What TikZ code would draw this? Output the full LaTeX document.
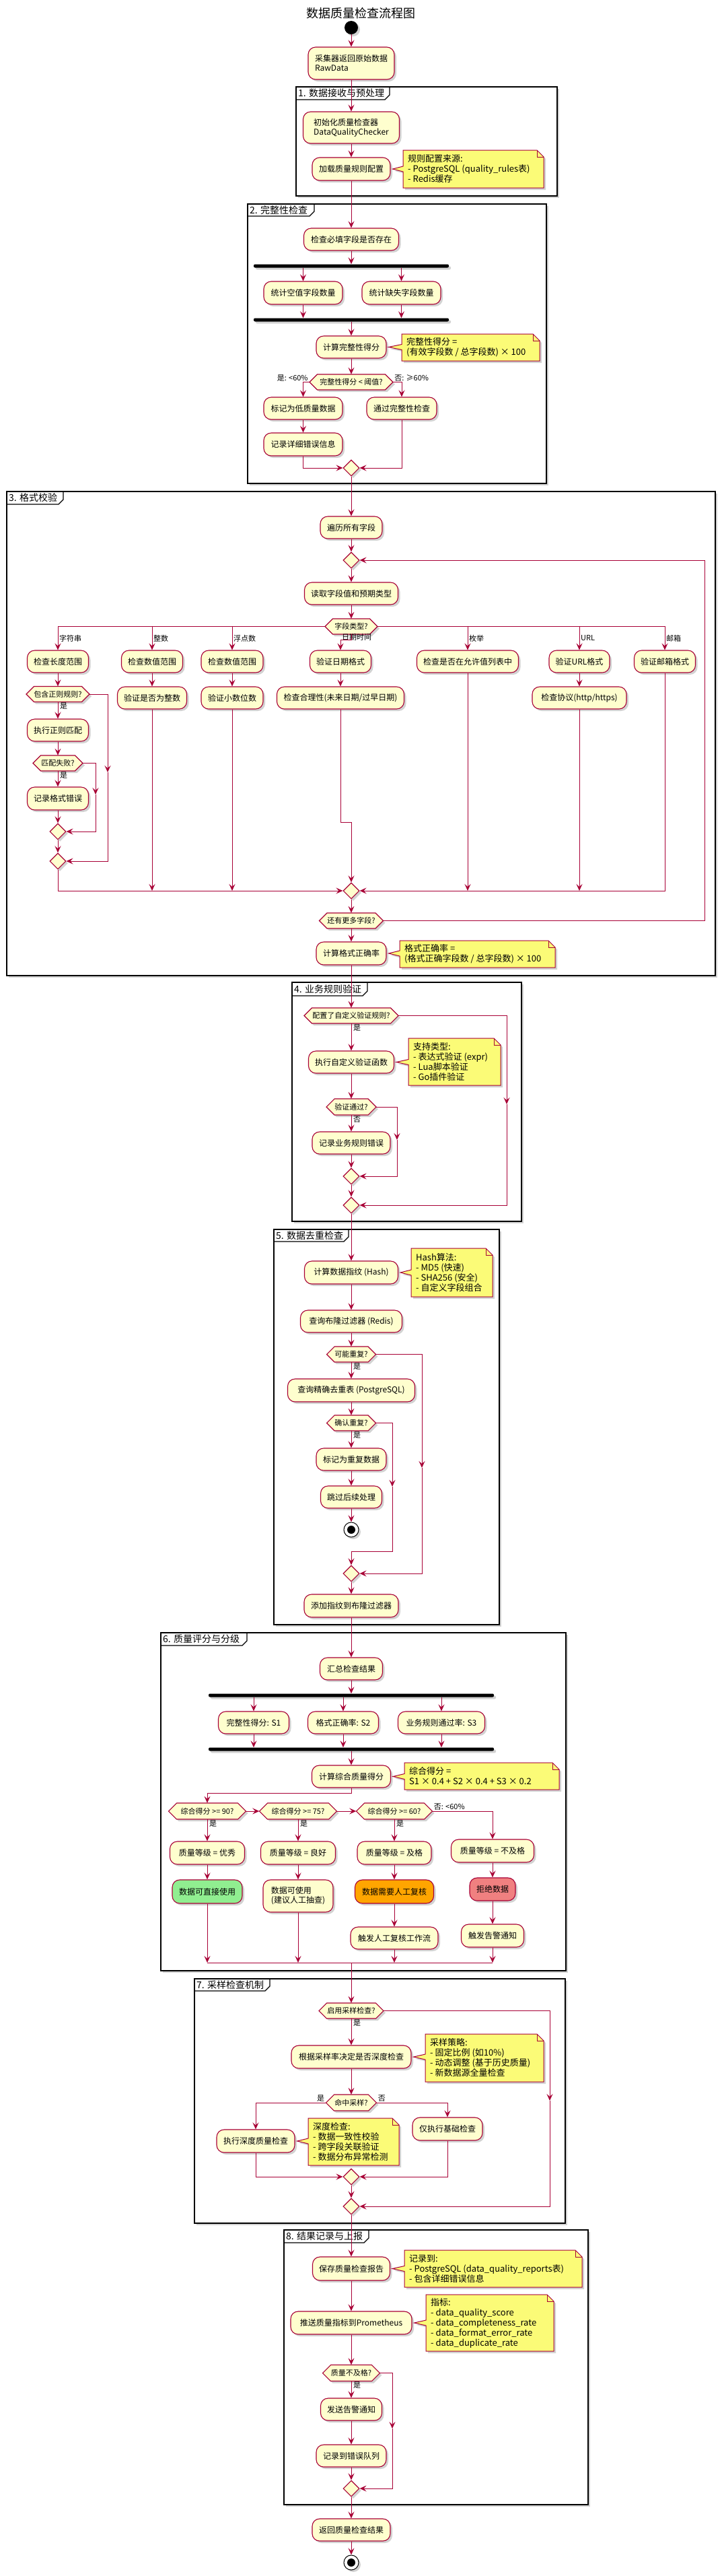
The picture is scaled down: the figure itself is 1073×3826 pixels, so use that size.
\documentclass[tikz,border=0pt]{standalone}
\usepackage{fontspec}
\setmainfont{Noto Sans CJK SC}
\usetikzlibrary{shapes.geometric,arrows.meta,shadows,calc}
\definecolor{pc}{HTML}{A80036}
\definecolor{actfill}{HTML}{FEFECE}
\definecolor{notefill}{HTML}{FBFB77}
\definecolor{okgreen}{HTML}{90EE90}
\definecolor{myorange}{HTML}{FFA500}
\definecolor{mycoral}{HTML}{F08080}
\tikzset{
  shadowed/.style={drop shadow={shadow xshift=3pt,shadow yshift=-3pt,fill=gray,opacity=0.35}},
  cline/.style={draw=pc,line width=1pt},
  arr/.style={cline,-{Stealth[length=10pt,width=9pt,inset=4pt]}},
  act/.style={draw=pc,fill=actfill,line width=1.1pt,rounded corners=11pt,font=\fontsize{12}{14}\selectfont,align=left,inner sep=2pt,text=black,shadowed},
  hexshape/.style={draw=pc,fill=actfill,line width=1.1pt,shadowed},
  hextext/.style={inner sep=0pt,font=\fontsize{11}{13}\selectfont,text=black},
  merge/.style={diamond,draw=pc,fill=actfill,line width=1.1pt,minimum width=24,minimum height=24,inner sep=0pt,shadowed},
  fbar/.style={fill=black,rounded corners=2pt,minimum height=5,inner sep=0pt,shadowed},
  secframe/.style={draw=black,line width=1.5pt,fill=white,shadowed},
  tabline/.style={draw=black,line width=1.2pt},
  framelab/.style={inner sep=0pt,font=\fontsize{14}{16}\selectfont,anchor=west},
  lab/.style={inner sep=0pt,font=\fontsize{11}{13}\selectfont},
  notebg/.style={draw=pc,fill=notefill,line width=1pt,shadowed},
  notefold/.style={draw=pc,line width=1pt},
  notetext/.style={inner sep=0pt,font=\fontsize{13}{15}\selectfont,align=left,anchor=west},
}
% hexagon decision: name, x, y, half width, half height, text
\newcommand\hexd[6]{%
  \path[hexshape] ({#2-#4},{#3}) -- ({#2-#4+#5},{#3-#5}) -- ({#2+#4-#5},{#3-#5}) -- ({#2+#4},{#3}) -- ({#2+#4-#5},{#3+#5}) -- ({#2-#4+#5},{#3+#5}) -- cycle;
  \node[hextext,minimum width={2*#4},minimum height={2*#5}] (#1) at (#2,#3) {#6};
}
% frame: name, x1, y1, x2, y2, tab right, tab bottom, label
\newcommand\secfrm[8]{%
  \path[secframe] (#2,#3) rectangle (#4,#5);
  \draw[tabline] (#2,#7) -- ({#6-7},#7) -- (#6,{#7-7}) -- (#6,#3);
  \node[framelab] (#1) at ({#2+3},{(#3+#7)/2}) {#8};
}
% note: name, x1, y1, x2, y2, target node, text
\newcommand\notebox[7]{%
  \coordinate (#1L) at (#2,0);
  \path[notebg] (#2,#3) -- ({#4-10},#3) -- (#4,{#3+10}) -- (#4,#5) -- (#2,#5)
     -- ($(#6.east -| #1L)+(0,4)$) -- ([xshift=3pt]#6.east) -- ($(#6.east -| #1L)+(0,-4)$) -- cycle;
  \draw[notefold] ({#4-10},#3) -- ({#4-10},{#3+10}) -- (#4,{#3+10});
  \node[notetext] (#1) at ({#2+7},{(#3+#5)/2}) {#7};
}
\begin{document}
\begin{tikzpicture}[x=1pt,y=-1pt]
\useasboundingbox (0,0) rectangle (1073,3826);
\fill[white] (0,0) rectangle (1073,3826);

% ---------- frames ----------
\secfrm{fl1}{440}{129}{828}{291}{579}{148}{1. 数据接收与预处理}
\secfrm{fl2}{368}{303}{812}{718}{467}{321}{2. 完整性检查}
\secfrm{fl3}{10}{730}{1063}{1449}{94}{749}{3. 格式校验}
\secfrm{fl4}{434}{1459}{775}{1814}{546}{1479}{4. 业务规则验证}
\secfrm{fl5}{407}{1826}{742}{2413}{518}{1844}{5. 数据去重检查}
\secfrm{fl6}{239}{2425}{841}{2927}{367}{2444}{6. 质量评分与分级}
\secfrm{fl7}{289}{2939}{840}{3302}{401}{2957}{7. 采样检查机制}
\secfrm{fl8}{422}{3312}{874}{3720}{548}{3331}{8. 结果记录与上报}

% ---------- title & start ----------
\node[inner sep=0pt,font=\fontsize{18}{20}\selectfont] (title) at (536,20) {数据质量检查流程图};
\node[circle,fill=black,minimum size=20,inner sep=0pt,shadowed] (start) at (522,41) {};

% ---------- section 1 ----------
\node[act,minimum width=128,minimum height=48] (n1) at (522,94) {采集器返回原始数据\\RawData};
\node[act,minimum width=143,minimum height=47] (n2) at (522,189.5) {初始化质量检查器\\DataQualityChecker};
\node[act,minimum width=116,minimum height=34] (n3) at (522,251) {加载质量规则配置};
\notebox{note1}{599}{223}{808}{279}{n3}{规则配置来源:\\- PostgreSQL (quality\_rules表)\\- Redis缓存}

% ---------- section 2 ----------
\node[act,minimum width=141,minimum height=33] (n4) at (522,355.5) {检查必填字段是否存在};
\node[fbar,minimum width=290] (fork1) at (522,395) {};
\node[act,minimum width=117,minimum height=34] (n5) at (450.5,435) {统计空值字段数量};
\node[act,minimum width=117,minimum height=34] (n6) at (596.5,435) {统计缺失字段数量};
\node[fbar,minimum width=290] (join1) at (522,475) {};
\node[act,minimum width=104,minimum height=33] (n7) at (522,515.5) {计算完整性得分};
\notebox{note2}{597}{496}{802}{536}{n7}{完整性得分 =\\(有效字段数 / 总字段数) × 100}
\hexd{d1}{522}{567.5}{62}{11.5}{完整性得分 < 阈值?}
\node[act,minimum width=117,minimum height=33] (n8) at (450.5,606.5) {标记为低质量数据};
\node[act,minimum width=104,minimum height=33] (n9) at (597,606.5) {通过完整性检查};
\node[act,minimum width=117,minimum height=34] (n10) at (450.5,660) {记录详细错误信息};
\node[merge] (m1) at (522,695) {};
\node[lab,anchor=south east] (ld1a) at ([xshift=-2pt,yshift=1pt]d1.west) {是: <60\%};
\node[lab,anchor=south west] (ld1b) at ([xshift=2pt,yshift=1pt]d1.east) {否: ≥60\%};

% ---------- section 3 ----------
\node[act,minimum width=92,minimum height=33] (n11) at (522,783.5) {遍历所有字段};
\node[merge] (m2) at (522,832) {};
\node[act,minimum width=139,minimum height=33] (n12) at (522,881.5) {读取字段值和预期类型};
\hexd{d2}{522}{930.5}{39}{11.5}{字段类型?}
\node[act,minimum width=91,minimum height=33] (b1) at (86,982.5) {检查长度范围};
\node[act,minimum width=91,minimum height=33] (b2) at (226,982.5) {检查数值范围};
\node[act,minimum width=92,minimum height=33] (b3) at (345,982.5) {检查数值范围};
\node[act,minimum width=91,minimum height=33] (b4) at (506,982.5) {验证日期格式};
\node[act,minimum width=151,minimum height=33] (b5) at (695,982.5) {检查是否在允许值列表中};
\node[act,minimum width=90,minimum height=33] (b6) at (861,982.5) {验证URL格式};
\node[act,minimum width=91,minimum height=33] (b7) at (988,982.5) {验证邮箱格式};
\node[lab,anchor=west] (lb1) at (88,948) {字符串};
\node[lab,anchor=west] (lb2) at (228,948) {整数};
\node[lab,anchor=west] (lb3) at (347,948) {浮点数};
\node[lab,anchor=west] (lb4) at (508,946) {日期时间};
\node[lab,anchor=west] (lb5) at (697,948) {枚举};
\node[lab,anchor=west] (lb6) at (863,948) {URL};
\node[lab,anchor=west] (lb7) at (990,948) {邮箱};
\hexd{d3}{86}{1031}{47}{11.5}{包含正则规则?}
\node[act,minimum width=103,minimum height=33] (b8) at (226,1036.5) {验证是否为整数};
\node[act,minimum width=92,minimum height=33] (b9) at (345,1036.5) {验证小数位数};
\node[act,minimum width=189,minimum height=33] (b10) at (506,1036.5) {检查合理性(未来日期/过早日期)};
\node[act,minimum width=140,minimum height=33] (b11) at (861,1036.5) {检查协议(http/https)};
\node[lab,anchor=north west] (ld3) at ([xshift=3pt,yshift=-1pt]d3.south) {是};
\node[act,minimum width=91,minimum height=33] (b12) at (86,1084.5) {执行正则匹配};
\hexd{d4}{86}{1133.5}{37}{11.5}{匹配失败?}
\node[lab,anchor=north west] (ld4) at ([xshift=3pt,yshift=-1pt]d4.south) {是};
\node[act,minimum width=91,minimum height=34] (b13) at (86,1186) {记录格式错误};
\node[merge] (m3) at (86,1235) {};
\node[merge] (m4) at (86,1279) {};
\node[merge] (m5) at (522,1323) {};
\hexd{d5}{522}{1367.5}{47.5}{11.5}{还有更多字段?}
\node[act,minimum width=104,minimum height=34] (b14) at (522,1416) {计算格式正确率};
\notebox{note3}{594}{1397}{825}{1437}{b14}{格式正确率 =\\(格式正确字段数 / 总字段数) × 100}

% ---------- section 4 ----------
\hexd{d6}{522}{1508.5}{70}{11.5}{配置了自定义验证规则?}
\node[lab,anchor=north west] (ld6) at ([xshift=3pt,yshift=-1pt]d6.south) {是};
\node[act,minimum width=127,minimum height=33] (c1) at (522,1577.5) {执行自定义验证函数};
\notebox{note4}{607}{1542}{744}{1612}{c1}{支持类型:\\- 表达式验证 (expr)\\- Lua脚本验证\\- Go插件验证}
\hexd{d7}{522}{1644}{37}{12}{验证通过?}
\node[lab,anchor=north west] (ld7) at ([xshift=3pt,yshift=-1pt]d7.south) {否};
\node[act,minimum width=116,minimum height=33] (c2) at (522,1697.5) {记录业务规则错误};
\node[merge] (m6) at (522,1747) {};
\node[merge] (m7) at (522,1790) {};

% ---------- section 5 ----------
\node[act,minimum width=139,minimum height=34] (e1) at (522,1890) {计算数据指纹 (Hash)};
\notebox{note5}{611}{1854}{732}{1926}{e1}{Hash算法:\\- MD5 (快速)\\- SHA256 (安全)\\- 自定义字段组合}
\node[act,minimum width=151,minimum height=33] (e2) at (522,1962.5) {查询布隆过滤器 (Redis)};
\hexd{d8}{522}{2011.5}{36.5}{11.5}{可能重复?}
\node[lab,anchor=north west] (ld8) at ([xshift=3pt,yshift=-1pt]d8.south) {是};
\node[act,minimum width=189,minimum height=34] (e3) at (522,2065) {查询精确去重表 (PostgreSQL)};
\hexd{d9}{522}{2113.5}{36.5}{11.5}{确认重复?}
\node[lab,anchor=north west] (ld9) at ([xshift=3pt,yshift=-1pt]d9.south) {是};
\node[act,minimum width=104,minimum height=33] (e4) at (522,2167.5) {标记为重复数据};
\node[act,minimum width=91,minimum height=33] (e5) at (522,2223.5) {跳过后续处理};
\node[circle,draw=black,fill=white,line width=1pt,minimum size=22,inner sep=0pt,shadowed] (stop1) at (522,2272) {};
\node[circle,fill=black,minimum size=12,inner sep=0pt] (stop1in) at (stop1) {};
\node[merge] (m8) at (522,2337) {};
\node[act,minimum width=140,minimum height=34] (e6) at (522,2385) {添加指纹到布隆过滤器};

% ---------- section 6 ----------
\node[act,minimum width=93,minimum height=33] (f1) at (522,2478.5) {汇总检查结果};
\node[fbar,minimum width=424] (fork2) at (522,2518) {};
\node[act,minimum width=105,minimum height=33] (f2) at (377,2558.5) {完整性得分: S1};
\node[act,minimum width=105,minimum height=33] (f3) at (510,2558.5) {格式正确率: S2};
\node[act,minimum width=129,minimum height=33] (f4) at (656,2558.5) {业务规则通过率: S3};
\node[fbar,minimum width=424] (join2) at (522,2598) {};
\node[act,minimum width=117,minimum height=33] (f5) at (522,2638.5) {计算综合质量得分};
\notebox{note6}{601}{2618}{831}{2658}{f5}{综合得分 =\\S1 × 0.4 + S2 × 0.4 + S3 × 0.2}
\hexd{g1}{308}{2690}{57.5}{12}{综合得分 >= 90?}
\hexd{g2}{443}{2690}{57.5}{12}{综合得分 >= 75?}
\hexd{g3}{586}{2690}{56.5}{12}{综合得分 >= 60?}
\node[lab,anchor=north west] (lg1) at ([xshift=3pt,yshift=-1pt]g1.south) {是};
\node[lab,anchor=north west] (lg2) at ([xshift=3pt,yshift=-1pt]g2.south) {是};
\node[lab,anchor=north west] (lg3) at ([xshift=3pt,yshift=-1pt]g3.south) {是};
\node[lab,anchor=south west] (lg3b) at ([xshift=2pt,yshift=1pt]g3.east) {否: <60\%};
\node[act,minimum width=111,minimum height=34] (h1) at (308,2752) {质量等级 = 优秀};
\node[act,minimum width=111,minimum height=34] (h2) at (443,2752) {质量等级 = 良好};
\node[act,minimum width=110,minimum height=34] (h3) at (586,2752) {质量等级 = 及格};
\node[act,minimum width=123,minimum height=34] (h4) at (732,2749) {质量等级 = 不及格};
\node[act,fill=okgreen,minimum width=104,minimum height=35] (i1) at (308,2809.5) {数据可直接使用};
\node[act,minimum width=104,minimum height=48] (i2) at (443,2816) {数据可使用\\(建议人工抽查)};
\node[act,fill=myorange,minimum width=117,minimum height=35] (i3) at (586,2809.5) {数据需要人工复核};
\node[act,fill=mycoral,minimum width=68,minimum height=34] (i4) at (732,2806) {拒绝数据};
\node[act,minimum width=130,minimum height=33] (j3) at (586,2878.5) {触发人工复核工作流};
\node[act,minimum width=93,minimum height=34] (j4) at (732,2875) {触发告警通知};
\coordinate (mgC) at (522,2915);

% ---------- section 7 ----------
\hexd{k1}{522}{2986.5}{48}{11.5}{启用采样检查?}
\node[lab,anchor=north west] (lk1) at ([xshift=3pt,yshift=-1pt]k1.south) {是};
\node[act,minimum width=178,minimum height=34] (k2) at (522,3055) {根据采样率决定是否深度检查};
\notebox{note7}{632}{3021}{808}{3092}{k2}{采样策略:\\- 固定比例 (如10\%)\\- 动态调整 (基于历史质量)\\- 新数据源全量检查}
\hexd{k3}{522}{3123}{37.5}{12}{命中采样?}
\node[lab,anchor=south east] (lk3a) at ([xshift=-2pt,yshift=1pt]k3.west) {是};
\node[lab,anchor=south west] (lk3b) at ([xshift=2pt,yshift=1pt]k3.east) {否};
\node[act,minimum width=116,minimum height=34] (l1) at (380,3180) {执行深度质量检查};
\notebox{note8}{458}{3146}{593}{3216}{l1}{深度检查:\\- 数据一致性校验\\- 跨字段关联验证\\- 数据分布异常检测}
\node[act,minimum width=104,minimum height=34] (l2) at (665,3162) {仅执行基础检查};
\node[merge] (m9) at (522,3233) {};
\node[merge] (m10) at (522,3277) {};

% ---------- section 8 ----------
\node[act,minimum width=115,minimum height=35] (p1) at (522,3369.5) {保存质量检查报告};
\notebox{note9}{601}{3342}{865}{3397}{p1}{记录到:\\- PostgreSQL (data\_quality\_reports表)\\- 包含详细错误信息}
\node[act,minimum width=180,minimum height=34] (p2) at (522,3450) {推送质量指标到Prometheus};
\notebox{note10}{633}{3408}{823}{3492}{p2}{指标:\\- data\_quality\_score\\- data\_completeness\_rate\\- data\_format\_error\_rate\\- data\_duplicate\_rate}
\hexd{q1}{522}{3524.5}{42.5}{12}{质量不及格?}
\node[lab,anchor=north west] (lq1) at ([xshift=3pt,yshift=-1pt]q1.south) {是};
\node[act,minimum width=91,minimum height=33] (q2) at (522,3578.5) {发送告警通知};
\node[act,minimum width=104,minimum height=33] (q3) at (522,3647.5) {记录到错误队列};
\node[merge] (m11) at (522,3696) {};
\node[act,minimum width=116,minimum height=33] (r1) at (522,3757.5) {返回质量检查结果};
\node[circle,draw=black,fill=white,line width=1pt,minimum size=22,inner sep=0pt,shadowed] (stop2) at (522,3806) {};
\node[circle,fill=black,minimum size=12,inner sep=0pt] (stop2in) at (stop2) {};

% ================= connectors =================
\draw[arr] (start) -- (n1);
\draw[arr] (n1) -- (n2);
\draw[arr] (n2) -- (n3);
\draw[arr] (n3) -- (n4);
\draw[arr] (n4) -- (fork1);
\draw[arr] (fork1.south -| n5.north) -- (n5.north);
\draw[arr] (fork1.south -| n6.north) -- (n6.north);
\draw[arr] (n5.south) -- (n5.south |- join1.north);
\draw[arr] (n6.south) -- (n6.south |- join1.north);
\draw[arr] (join1) -- (n7);
\draw[arr] (n7) -- (d1);
\draw[arr] (d1.west) -| (n8.north);
\draw[arr] (d1.east) -| (n9.north);
\draw[arr] (n8) -- (n10);
\draw[arr] (n10.south) |- (m1.west);
\draw[arr] (n9.south) |- (m1.east);
\draw[arr] (m1) -- (n11);
\draw[arr] (n11) -- (m2);
\draw[arr] (m2) -- (n12);
\draw[arr] (n12) -- (d2);
% switch branches
\draw[arr] (d2.west) -| (b1.north);
\draw[arr] (d2.west -| b2.north) -- (b2.north);
\draw[arr] (d2.west -| b3.north) -- (b3.north);
\draw[arr] (d2.east) -| (b7.north);
\draw[arr] (d2.east -| b5.north) -- (b5.north);
\draw[arr] (d2.east -| b6.north) -- (b6.north);
\coordinate (dj) at (522,950);
\draw[arr] (d2.south) -- (dj) -| (b4.north);
% string branch
\draw[arr] (b1) -- (d3);
\draw[arr] (d3.south) -- (b12.north);
\draw[arr] (b12) -- (d4);
\draw[arr] (d4.south) -- (b13.north);
\coordinate (pa1) at (142,1180);
\draw[arr] (d4.east) -| (pa1);
\draw[arr] (pa1) |- (m3.east);
\draw[arr] (b13) -- (m3);
\draw[arr] (m3) -- (m4);
\coordinate (pa2) at (160,1147);
\draw[arr] (d3.east) -| (pa2);
\draw[arr] (pa2) |- (m4.east);
\draw[arr] (m4.south) |- (m5.west);
% other branches
\draw[arr] (b2) -- (b8);
\draw[arr] (b3) -- (b9);
\draw[arr] (b4) -- (b10);
\draw[arr] (b6) -- (b11);
\draw[arr] (b8.south) -- (b8.south |- m5.west);
\draw[arr] (b9.south) -- (b9.south |- m5.west);
\coordinate (dj2) at (506,1221);
\coordinate (dj3) at (522,1221);
\draw[arr] (b10.south) -- (dj2) -- (dj3) -- (m5.north);
\draw[arr] (b5.south) -- (b5.south |- m5.east);
\draw[arr] (b11.south) -- (b11.south |- m5.east);
\draw[arr] (b7.south) |- (m5.east);
\draw[arr] (m5) -- (d5);
\coordinate (lp) at (1047,1367.5);
\draw[arr] (d5.east) -- (lp) |- (m2.east);
\draw[arr] (d5.south) -- (b14.north);
% section 4
\draw[arr] (b14) -- (d6);
\draw[arr] (d6.south) -- (c1.north);
\draw[arr] (c1) -- (d7);
\draw[arr] (d7.south) -- (c2.north);
\draw[arr] (c2) -- (m6);
\coordinate (pa3) at (590,1693);
\draw[arr] (d7.east) -| (pa3);
\draw[arr] (pa3) |- (m6.east);
\draw[arr] (m6) -- (m7);
\coordinate (pa4) at (753,1640);
\draw[arr] (d6.east) -| (pa4);
\draw[arr] (pa4) |- (m7.east);
% section 5
\draw[arr] (m7) -- (e1);
\draw[arr] (e1) -- (e2);
\draw[arr] (e2) -- (d8);
\draw[arr] (d8.south) -- (e3.north);
\draw[arr] (e3) -- (d9);
\draw[arr] (d9.south) -- (e4.north);
\draw[arr] (e4) -- (e5);
\draw[arr] (e5) -- (stop1);
\coordinate (pa5) at (583,2208);
\coordinate (pb5) at (583,2304);
\coordinate (pc5) at (522,2304);
\draw[arr] (d9.east) -| (pa5);
\draw[arr] (pa5) -- (pb5) -- (pc5) -- (m8.north);
\coordinate (pa6) at (627,2180);
\draw[arr] (d8.east) -| (pa6);
\draw[arr] (pa6) |- (m8.east);
\draw[arr] (m8) -- (e6);
% section 6
\draw[arr] (e6) -- (f1);
\draw[arr] (f1) -- (fork2);
\draw[arr] (fork2.south -| f2.north) -- (f2.north);
\draw[arr] (fork2.south -| f3.north) -- (f3.north);
\draw[arr] (fork2.south -| f4.north) -- (f4.north);
\draw[arr] (f2.south) -- (f2.south |- join2.north);
\draw[arr] (f3.south) -- (f3.south |- join2.north);
\draw[arr] (f4.south) -- (f4.south |- join2.north);
\draw[arr] (join2) -- (f5);
\coordinate (p7) at (522,2663);
\draw[arr] (f5.south) -- (p7) -| (g1.north);
\draw[arr] (g1.east) -- (g2.west);
\draw[arr] (g2.east) -- (g3.west);
\draw[arr] (g1.south) -- (h1.north);
\draw[arr] (g2.south) -- (h2.north);
\draw[arr] (g3.south) -- (h3.north);
\draw[arr] (g3.east) -| (h4.north);
\draw[arr] (h1) -- (i1);
\draw[arr] (h2) -- (i2);
\draw[arr] (h3) -- (i3);
\draw[arr] (i3) -- (j3);
\draw[arr] (h4) -- (i4);
\draw[arr] (i4) -- (j4);
\draw[arr] (i1.south) -- (i1.south |- mgC);
\draw[arr] (i2.south) -- (i2.south |- mgC);
\draw[arr] (j3.south) -- (j3.south |- mgC);
\draw[arr] (j4.south) -- (j4.south |- mgC);
\draw[cline] (i1.south |- mgC) -- (j4.south |- mgC);
% section 7
\draw[arr] (mgC) -- (k1.north);
\draw[arr] (k1.south) -- (k2.north);
\draw[arr] (k2) -- (k3);
\draw[arr] (k3.west) -| (l1.north);
\draw[arr] (k3.east) -| (l2.north);
\draw[arr] (l1.south) |- (m9.west);
\draw[arr] (l2.south) |- (m9.east);
\draw[arr] (m9) -- (m10);
\coordinate (pa8) at (817,3120);
\draw[arr] (k1.east) -| (pa8);
\draw[arr] (pa8) |- (m10.east);
% section 8
\draw[arr] (m10) -- (p1);
\draw[arr] (p1) -- (p2);
\draw[arr] (p2) -- (q1);
\draw[arr] (q1.south) -- (q2.north);
\draw[arr] (q2) -- (q3);
\draw[arr] (q3) -- (m11);
\coordinate (pa9) at (583,3607);
\draw[arr] (q1.east) -| (pa9);
\draw[arr] (pa9) |- (m11.east);
\draw[arr] (m11) -- (r1);
\draw[arr] (r1) -- (stop2);
\end{tikzpicture}
\end{document}
